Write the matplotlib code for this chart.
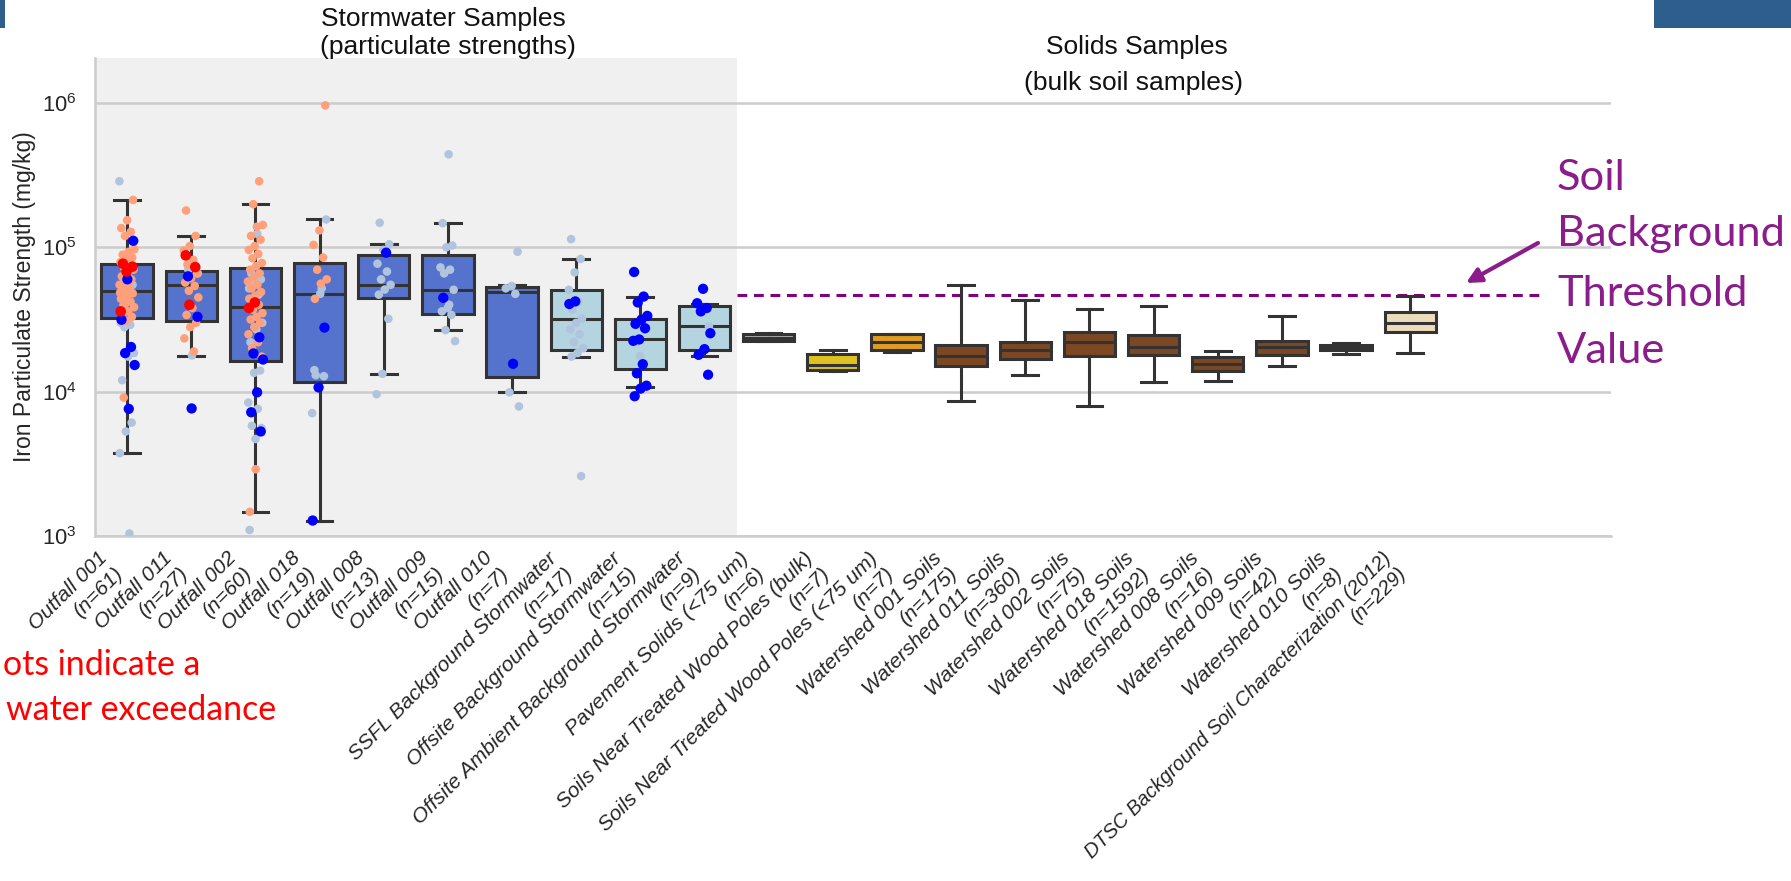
import colorsys
import numpy as np
import matplotlib
matplotlib.use("Agg")
import matplotlib.pyplot as plt
import matplotlib.colors as mcolors
from matplotlib.patches import Rectangle
from matplotlib.ticker import NullLocator

# ---------------- data ----------------
categories = [
    "Outfall 001", "Outfall 011", "Outfall 002", "Outfall 018", "Outfall 008",
    "Outfall 009", "Outfall 010", "SSFL Background Stormwater",
    "Offsite Background Stormwater", "Offsite Ambient Background Stormwater",
    "Pavement Solids (<75 um)", "Soils Near Treated Wood Poles (bulk)",
    "Soils Near Treated Wood Poles (<75 um)", "Watershed 001 Soils",
    "Watershed 011 Soils", "Watershed 002 Soils", "Watershed 018 Soils",
    "Watershed 008 Soils", "Watershed 009 Soils", "Watershed 010 Soils",
    "DTSC Background Soil Characterization (2012)",
]
counts = [61, 27, 60, 19, 13, 15, 7, 17, 15, 9, 6, 7, 7, 175, 360, 75, 1592, 16, 42, 8, 229]

# box statistics (mg/kg)
whislo = [3750, 17600, 1470, 1280, 13300, 26700, 9900, 17500, 10800, 17800,
          22400, 14000, 18700, 8650, 13000, 8000, 11700, 11900, 15000, 18200, 18400]
q1 = [32300, 31100, 16300, 11700, 44700, 34600, 12700, 19300, 14300, 19500,
      22500, 14100, 19300, 15100, 16800, 17700, 18000, 13900, 17900, 19300, 25700]
med = [50200, 55100, 38500, 47200, 55000, 50800, 49400, 32100, 23100, 28300,
       23700, 15200, 22000, 17700, 19300, 22100, 20400, 15600, 20500, 20200, 30000]
q3 = [76600, 68900, 71400, 77800, 88000, 88000, 53000, 50800, 32000, 39500,
      24900, 18200, 25000, 21100, 22100, 25800, 24600, 17300, 22500, 21200, 35400]
whishi = [213000, 120000, 199000, 156000, 105000, 147000, 54700, 83000, 45200, 40400,
          25500, 19400, 25000, 54700, 42900, 37300, 39200, 19100, 33300, 21700, 46100]

box_colors = (["royalblue"] * 7 + ["lightblue"] * 3 + ["darkgray", "gold", "orange"]
              + ["saddlebrown"] * 7 + ["wheat"])

# individual stormwater samples, by point colour group (first 10 categories)
pts_steelblue = [
    [287000, 70000, 62000, 55000, 45000, 30000, 29000, 28000, 18500, 17500, 12000,
     6100, 5300, 3750, 1040, 40000],
    [70000, 66000, 17800],
    [124000, 66000, 60000, 56000, 52000, 47000, 44000, 30000, 27000, 22000, 14000,
     13500, 8400, 7600, 5800, 5600, 4700, 1100],
    [156000, 47700, 14100, 12800, 10800, 7100, 52000, 13000],
    [148000, 105000, 96000, 77000, 68000, 60000, 55000, 51000, 47000, 32000, 13300, 9600],
    [441000, 147000, 103000, 100000, 72600, 70000, 66000, 50800, 38000, 36000, 34000,
     26700, 22400, 40000],
    [93300, 54000, 52000, 47600, 9900, 7900],
    [114000, 83000, 67000, 50800, 42000, 37000, 32000, 30000, 27000, 25000, 22000,
     20000, 18500, 17500, 2600],
    [17700],
    [28300],
]
pts_salmon = [
    [213000, 154000, 136000, 128000, 120000, 97000, 93000, 89000, 85000, 82000, 79000,
     75000, 72000, 70000, 66000, 63000, 60000, 57000, 55000, 52000, 50000, 48000, 46000,
     44000, 42000, 40000, 38500, 36000, 34000, 33000, 31000, 48500, 58000, 9100],
    [180000, 120000, 102000, 95000, 82000, 76000, 66000, 61000, 57000, 54000, 50000,
     45000, 38000, 34000, 30000, 28000, 23400, 19000],
    [287000, 199000, 143000, 139000, 120000, 113000, 102000, 96000, 90000, 84000,
     78000, 74000, 70000, 66000, 62000, 58000, 55000, 52000, 49000, 46000, 44000, 40000,
     37000, 35000, 33000, 31600, 30000, 28000, 25000, 22000, 20000, 17500, 2900, 1470],
    [963000, 131000, 104000, 85000, 70000, 60000, 56000, 44000],
    [], [], [], [], [], [],
]
pts_blue = [
    [111000, 60000, 31500, 20400, 18500, 15300, 7600],
    [63000, 33000, 7650],
    [23800, 18400, 16700, 9900, 7200, 5300],
    [27800, 10700, 1280],
    [91800],
    [44700],
    [15600],
    [42200, 40500],
    [67500, 45600, 41500, 33500, 31500, 29500, 27500, 23000, 22500, 15500, 13400,
     11000, 10500, 9300],
    [51600, 41000, 38000, 36000, 25400, 19700, 18000, 13100],
]
pts_red = [
    [77000, 73500, 68000, 36000],
    [88000, 73000, 40000],
    [41500, 38000],
    [], [], [], [], [], [], [],
]

soil_threshold = 46700

# ---------------- styling ----------------
W, H = 1791, 881
FONT = ["Liberation Sans", "DejaVu Sans"]
plt.rcParams["font.family"] = FONT
plt.rcParams["mathtext.default"] = "regular"
EDGE = "#333333"
GRID = "#cccccc"
PURPLE = "#8B1C8B"
TXT = "#262626"


def desat(c, prop=0.75):
    r, g, b = mcolors.to_rgb(c)
    h, l, s = colorsys.rgb_to_hls(r, g, b)
    return colorsys.hls_to_rgb(h, l, s * prop)


def fx(px):
    return px / W


def fy(py):
    return 1 - py / H


fig = plt.figure(figsize=(W / 100, H / 100), dpi=100)
ax = fig.add_axes([fx(95), fy(536), (1611 - 95) / W, (536 - 58) / H])

n = len(categories)
pos = np.arange(n)

ax.axvspan(-0.5, 9.5, color="#f0f0f0", zorder=0.2, lw=0)

stats = [dict(whislo=a, q1=b, med=c, q3=d, whishi=e)
         for a, b, c, d, e in zip(whislo, q1, med, q3, whishi)]
lw = 2.2
bp = ax.bxp(stats, positions=pos, widths=0.8, showfliers=False, patch_artist=True,
            manage_ticks=False,
            boxprops=dict(edgecolor=EDGE, linewidth=lw),
            medianprops=dict(color=EDGE, linewidth=lw),
            whiskerprops=dict(color=EDGE, linewidth=lw),
            capprops=dict(color=EDGE, linewidth=lw))
for patch, c in zip(bp["boxes"], box_colors):
    patch.set_facecolor(desat(c))
for k in ("boxes", "medians", "whiskers", "caps"):
    for art in bp[k]:
        art.set_zorder(2)

ax.hlines(soil_threshold, 9.5, 22.0, colors="purple", linestyles=(0, (3.2, 2.2)),
          linewidth=2.2, zorder=1.8)

# strip points
counter = [0] * n
groups = [(pts_steelblue, "#B0C4DE", 38, 3.0),
          (pts_salmon, "#FFA07A", 38, 3.1),
          (pts_blue, "#0000FF", 55, 3.2),
          (pts_red, "#FF0000", 58, 3.3)]
for data, col, size, z in groups:
    for i, vals in enumerate(data):
        if not vals:
            continue
        offs = []
        for _ in vals:
            k = counter[i]
            counter[i] += 1
            offs.append(((k * 0.6180339887 + 0.31 * i) % 1.0 - 0.5) * 0.24)
        ax.scatter(i + np.array(offs), vals, s=size, color=col, edgecolors="none",
                   zorder=z)

ax.set_yscale("log")
ax.set_ylim(1e3, 2.05e6)
ax.set_xlim(-0.5, 23.13)
ax.yaxis.set_minor_locator(NullLocator())
ax.set_axisbelow(True)
ax.yaxis.grid(True, color=GRID, linewidth=1.8)
ax.xaxis.grid(False)
for s in ("top", "right"):
    ax.spines[s].set_visible(False)
for s in ("left", "bottom"):
    ax.spines[s].set_color(GRID)
    ax.spines[s].set_linewidth(1.8)

ax.set_xticks(pos)
ax.set_xticklabels([f"{c}\n(n={k})" for c, k in zip(categories, counts)],
                   rotation=45, ha="right", multialignment="right",
                   fontstyle="italic", fontsize=15.2, color=TXT)
ax.get_xticklabels()[-1].set_fontsize(14.5)
ax.tick_params(axis="x", length=0, pad=9)
ax.tick_params(axis="y", length=0, pad=13, labelsize=15.8, labelcolor=TXT)
ax.set_ylabel("Iron Particulate Strength (mg/kg)", fontsize=16.5, color=TXT, va="center")
ax.yaxis.set_label_coords((25 - 95) / 1516, 0.5)

# titles over the two groups
tkw = dict(ha="center", va="baseline", fontsize=19, color="#111111")
fig.text(fx(443), fy(26), "Stormwater Samples", **tkw)
fig.text(fx(448), fy(54), "(particulate strengths)", **tkw)
fig.text(fx(1137), fy(54), "Solids Samples", **tkw)
fig.text(fx(1134), fy(90), "(bulk soil samples)", **tkw)

# annotation text
pkw = dict(ha="left", va="baseline", fontsize=31.2, color=PURPLE, family=["Lato", "DejaVu Sans"])
for txt, yb in (("Soil", 190), ("Background", 246), ("Threshold", 306), ("Value", 363)):
    fig.text(fx(1557), fy(yb), txt, **pkw)
ax.annotate("", xy=(fx(1466), fy(283)), xytext=(fx(1538), fy(243)),
            xycoords="figure fraction", textcoords="figure fraction",
            annotation_clip=False,
            arrowprops=dict(arrowstyle="-|>", color=PURPLE, lw=3, mutation_scale=22,
                            shrinkA=0, shrinkB=0))

rkw = dict(ha="left", va="baseline", fontsize=24.4, color="#FF0000", family=["Lato", "DejaVu Sans"])
fig.text(fx(3), fy(675), "ots indicate a", **rkw)
fig.text(fx(6), fy(720), "water exceedance", **rkw)

# slide decoration bars
fig.add_artist(Rectangle((0, fy(28)), fx(5), 28 / H, transform=fig.transFigure,
                         color="#2E5E8E", lw=0))
fig.add_artist(Rectangle((fx(1654), fy(28)), fx(W - 1654), 28 / H,
                         transform=fig.transFigure, color="#2E5E8E", lw=0))

fig.savefig("out.png", dpi=100)
